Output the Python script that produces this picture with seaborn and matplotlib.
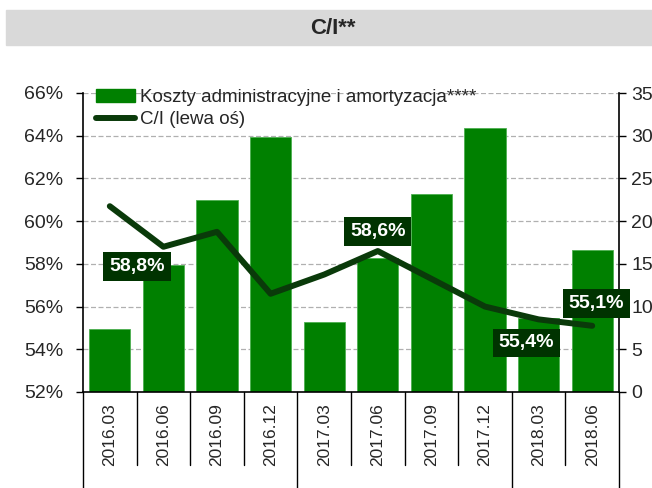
import numpy as np
import seaborn as sns
import matplotlib.pyplot as plt
from matplotlib.patches import Rectangle, Patch
from matplotlib.lines import Line2D
from matplotlib.ticker import FuncFormatter, MultipleLocator

quarters = ['2016.03', '2016.06', '2016.09', '2016.12', '2017.03',
            '2017.06', '2017.09', '2017.12', '2018.03', '2018.06']
costs = [7.4, 14.9, 22.5, 29.9, 8.2, 15.7, 23.2, 30.9, 8.7, 16.6]
ci = [60.7, 58.8, 59.5, 56.6, 57.5, 58.6, 57.3, 56.0, 55.4, 55.1]
label_idx = [1, 5, 8, 9]
label_txt = ['58,8%', '58,6%', '55,4%', '55,1%']
label_off = [(-19, -14), (0, 14), (-9, -17), (3, 16)]
group_edges = [-0.5, 3.5, 7.5, 9.5]

sns.set_style('white')
plt.rcParams['font.family'] = ['Liberation Sans', 'DejaVu Sans']

bar_col = '#008000'
line_col = '#0a3a0a'
box_col = '#003300'

fig = plt.figure(figsize=(6.52, 4.88), dpi=100)
ax = fig.add_axes([83/652, 96/488, 536/652, 299/488])
ax2 = ax.twinx()

sns.barplot(x=quarters, y=costs, ax=ax2, color=bar_col, saturation=1,
            width=0.77, edgecolor='#4caf50', linewidth=0.6)
sns.lineplot(x=np.arange(len(quarters)), y=ci, ax=ax, color=line_col,
             linewidth=4.3, solid_capstyle='round')

ax.set_zorder(ax2.get_zorder() + 1)
ax.patch.set_visible(False)

ax.set_xlim(-0.5, 9.5)
ax.set_ylim(52, 66)
ax.yaxis.set_major_locator(MultipleLocator(2))
ax.yaxis.set_major_formatter(FuncFormatter(lambda v, p: f'{v:.0f}%'))
ax2.set_ylim(0, 35)
ax2.yaxis.set_major_locator(MultipleLocator(5))
ax2.set_axisbelow(True)
ax2.yaxis.grid(True, linestyle=(0, (4, 2)), color='#b0b0b0', linewidth=0.9)
ax2.set_ylabel('')
ax.set_ylabel('')

ax.set_xticks(range(len(quarters)))
ax.set_xticklabels(quarters, rotation=90, fontsize=12.5)
ax.tick_params(axis='x', length=0, pad=8)
ax2.tick_params(axis='x', length=0)
ax.tick_params(axis='y', direction='out', length=5, width=1, pad=9,
               labelsize=14, left=True, color='black')
ax2.tick_params(axis='y', direction='out', length=5, width=1, pad=4,
                labelsize=14, right=True, color='black')

for a in (ax, ax2):
    for s in a.spines.values():
        s.set_visible(False)
for s in ('left', 'right', 'bottom'):
    ax2.spines[s].set_visible(True)
    ax2.spines[s].set_color('black')
    ax2.spines[s].set_linewidth(1.2)

# category separators below the axis
for i in range(len(quarters) + 1):
    x = i - 0.5
    y_end = -0.33 if x in group_edges else -0.245
    ax.add_line(Line2D([x, x], [0, y_end], transform=ax.get_xaxis_transform(),
                       color='black', linewidth=1, clip_on=False))

for i, t, off in zip(label_idx, label_txt, label_off):
    ax.annotate(t, (i, ci[i]), xytext=off, textcoords='offset points',
                ha='center', va='center', color='white', fontsize=14,
                fontweight='bold',
                bbox=dict(boxstyle='square,pad=0.3', fc=box_col, ec='none'))

handles = [Patch(color=bar_col), Line2D([], [], color=line_col, linewidth=4.3)]
ax.legend(handles, ['Koszty administracyjne i amortyzacja****', 'C/I (lewa oś)'],
          loc='upper left', bbox_to_anchor=(0.01, 1.04), frameon=False,
          fontsize=13.5, handlelength=2.1, handletextpad=0.25,
          labelspacing=0.3, borderaxespad=0)

fig.patches.append(Rectangle((6/652, 1 - 45/488), 646/652, 35/488,
                             transform=fig.transFigure, color='#d9d9d9',
                             zorder=0))
fig.text(333/652, 1 - 28/488, 'C/I**', ha='center', va='center',
         fontsize=16, fontweight='bold')

fig.savefig('out.png', dpi=100)
